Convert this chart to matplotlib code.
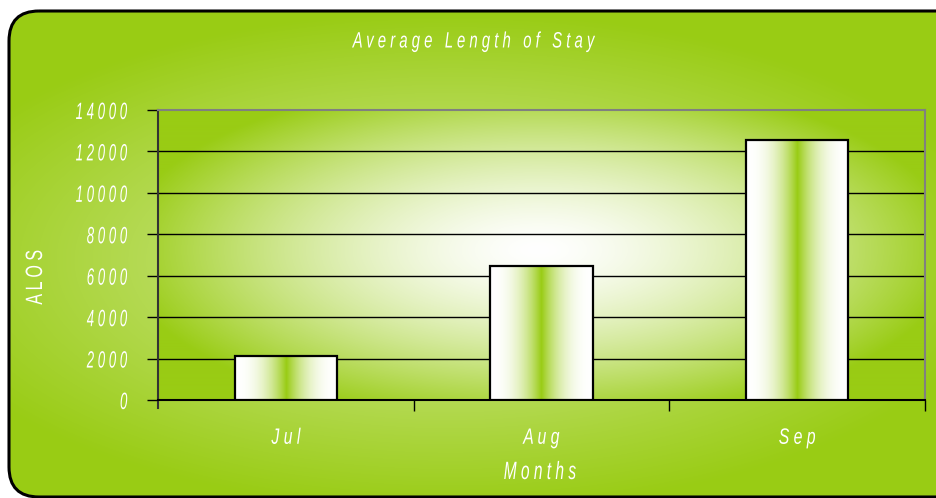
import numpy as np
import matplotlib
matplotlib.use("Agg")
import matplotlib.pyplot as plt
from matplotlib.patches import FancyBboxPatch
from matplotlib.patheffects import AbstractPathEffect
from matplotlib.transforms import Affine2D

months = ["Jul", "Aug", "Sep"]
alos = [2120, 6470, 12550]
yticks = [0, 2000, 4000, 6000, 8000, 10000, 12000, 14000]

GREEN = np.array([153, 204, 20]) / 255.0
WHITE = np.array([1.0, 1.0, 1.0])
FONT = ["Liberation Sans", "DejaVu Sans"]


class Squeeze(AbstractPathEffect):
    """narrow the glyphs horizontally, like a condensed face"""

    def __init__(self, sx, anchor="center"):
        super().__init__()
        self.sx = sx
        self.anchor = anchor

    def draw_path(self, renderer, gc, tpath, affine, rgbFace=None):
        ext = tpath.get_extents()
        x0 = {"left": ext.x0, "center": (ext.x0 + ext.x1) / 2, "right": ext.x1}[self.anchor]
        t = Affine2D().translate(-x0, 0).scale(self.sx, 1).translate(x0, 0) + affine
        renderer.draw_path(gc, tpath, t, rgbFace)


def spaced(s):
    return " ".join(s)


def radial(w, h, cx, cy, rx, ry, power=1.0, floor=0.0):
    yy, xx = np.mgrid[0:h, 0:w]
    t = np.sqrt(((xx - cx) / rx) ** 2 + ((yy - cy) / ry) ** 2)
    t = np.clip(t, 0, 1) ** power
    t = floor + (1 - floor) * t
    return WHITE * (1 - t[..., None]) + GREEN * t[..., None]


fig = plt.figure(figsize=(9.36, 4.98), dpi=100)

# background with rounded frame
bg = fig.add_axes([0, 0, 1, 1])
bg.set_xlim(0, 936)
bg.set_ylim(498, 0)
bg.axis("off")
frame = FancyBboxPatch((9, 11), 960, 486, boxstyle="round,pad=0,rounding_size=30",
                       facecolor="none", edgecolor="black", lw=2.2, zorder=3)
bg.add_patch(frame)
img = bg.imshow(radial(936, 498, 450, 260, 560, 250, 0.9, 0.35), extent=(0, 936, 498, 0),
                zorder=1, aspect="auto")
img.set_clip_path(frame)

# plot area
ax = fig.add_axes([158 / 936, 98 / 498, 767 / 936, 290 / 498])
ax.imshow(radial(767, 290, 380, 140, 420, 175, 1.5), extent=(0, 3, 0, 14000),
          aspect="auto", zorder=0)

for y in yticks[1:-1]:
    ax.axhline(y, color="black", lw=1, zorder=1)

x = np.arange(len(months)) + 0.5
bars = ax.bar(x, alos, width=0.4, facecolor="none", edgecolor="black", lw=1.6, zorder=4)
u = np.linspace(0, 1, 200)
f = np.clip(1 - np.abs(u - 0.5) * 2, 0, 1) ** 2.3
grad = WHITE * (1 - f[:, None]) + GREEN * f[:, None]
for rect in bars:
    x0 = rect.get_x()
    im = ax.imshow(grad[None, :, :], extent=(x0, x0 + rect.get_width(), 0, rect.get_height()),
                   aspect="auto", zorder=3)
    im.set_clip_path(rect)
ax.set_xlim(0, 3)
ax.set_ylim(0, 14000)

for side in ["top", "right"]:
    ax.spines[side].set_color("#808080")
    ax.spines[side].set_linewidth(1.5)
ax.spines["left"].set_color("#333333")
ax.spines["left"].set_linewidth(1.5)
ax.spines["bottom"].set_color("black")
ax.spines["bottom"].set_linewidth(1.5)
ax.spines["left"].set_bounds(-400, 14000)

ax.set_yticks(yticks)
ax.set_yticklabels([spaced(str(v)) for v in yticks])
ax.tick_params(axis="y", length=8, width=1, color="black", pad=14,
               labelcolor="white", labelsize=17)
ax.set_xticks(x)
ax.set_xticklabels([spaced(m) for m in months])
ax.tick_params(axis="x", which="major", length=0, pad=20, labelcolor="white", labelsize=16)
ax.set_xticks([1, 2, 3], minor=True)
ax.tick_params(axis="x", which="minor", length=8, width=1, color="black")
for lab in ax.get_yticklabels():
    lab.set_family(FONT)
    lab.set_style("italic")
    lab.set_path_effects([Squeeze(0.56, "right")])
for lab in ax.get_xticklabels():
    lab.set_family(FONT)
    lab.set_style("italic")
    lab.set_path_effects([Squeeze(0.71)])

ax.set_xlabel(spaced("Months"), color="white", fontsize=18, style="italic",
              family=FONT, va="center", path_effects=[Squeeze(0.62)])
ax.xaxis.set_label_coords((540 - 158) / 767, (400 - 472) / 290)
fig.text(36 / 936, 1 - 277 / 498, spaced("ALOS"), rotation=90, color="white",
         fontsize=17, family=FONT, ha="center", va="center",
         path_effects=[Squeeze(0.68)])
fig.text(473 / 936, 1 - 42 / 498, spaced("Average Length of Stay"), color="white",
         fontsize=16, style="italic", family=FONT, ha="center", va="center",
         path_effects=[Squeeze(0.67)])

fig.savefig("out.png", dpi=100)
